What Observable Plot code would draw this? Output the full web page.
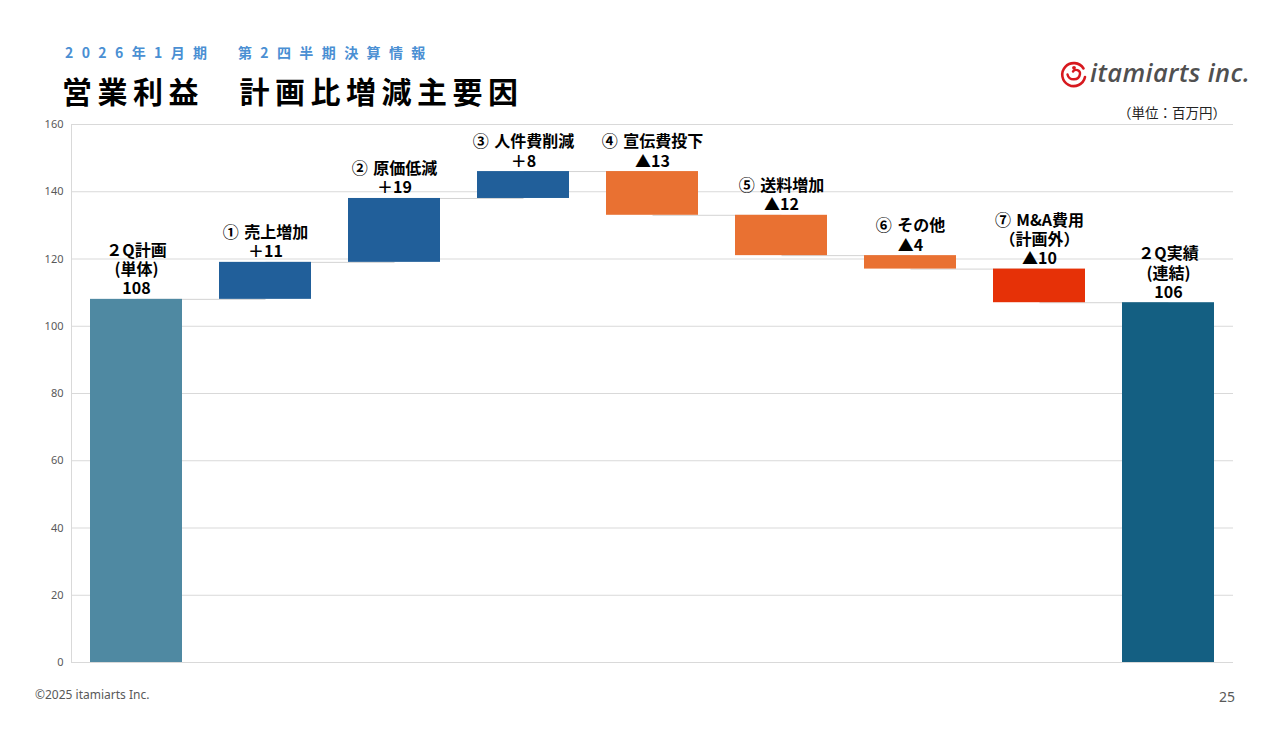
<!DOCTYPE html>
<html><head><meta charset="utf-8">
<script src="https://cdn.jsdelivr.net/npm/d3@7"></script>
<script src="https://cdn.jsdelivr.net/npm/@observablehq/plot@0.6"></script>
<style>
body{margin:0;background:#fff;}
#page{position:relative;width:1280px;height:731px;overflow:hidden;font-family:"Noto Sans CJK JP","Noto Sans",sans-serif;background:#fff;}
.abs{position:absolute;white-space:nowrap;}
#sub{left:65px;top:42px;font-size:14px;font-weight:700;color:#4a8fd3;letter-spacing:8.4px;line-height:20px;}
#title{left:62px;top:72px;font-size:30px;font-weight:700;color:#000;letter-spacing:5.5px;line-height:36px;}
#logo{left:1059px;top:59px;}
#logotext{left:1090px;top:55px;font-family:"Open Sans",sans-serif;font-style:italic;font-weight:600;font-size:25.5px;color:#505050;line-height:34px;letter-spacing:0.4px;}
#unit{left:1118px;top:102px;font-size:13.5px;color:#222;line-height:20px;}
#chart{left:0;top:115px;}
#foot{left:35px;top:686px;font-family:"Noto Sans",sans-serif;font-size:12px;color:#595959;line-height:18px;}
#pnum{left:1219px;top:687px;font-family:"Noto Sans",sans-serif;font-size:14px;color:#595959;line-height:20px;}
</style></head>
<body><div id="page">
<div id="sub" class="abs">2026年1月期　第2四半期決算情報</div>
<div id="title" class="abs">営業利益　計画比増減主要因</div>
<svg id="logo" class="abs" width="30" height="30" viewBox="0 0 30 30">
  <path d="M24.5 9.5 A11.5 11.5 0 1 0 26 18" fill="none" stroke="#d7191f" stroke-width="2.6" stroke-linecap="round"/>
  <path d="M8.5 15.5 C10 22 20 22 21 15 C21.5 11 16 9.5 14 12.5" fill="none" stroke="#d7191f" stroke-width="2.4" stroke-linecap="round"/>
  <circle cx="15" cy="8.8" r="1.9" fill="#d7191f"/>
</svg>
<div id="logotext" class="abs">itamiarts inc.</div>
<div id="unit" class="abs">（単位：百万円）</div>
<div id="chart" class="abs"></div>
<div id="foot" class="abs">©2025 itamiarts Inc.</div>
<div id="pnum" class="abs">25</div>
</div>
<script>
// ---- data ----
const categories = ["2Q計画", "売上増加", "原価低減", "人件費削減", "宣伝費投下", "送料増加", "その他", "M&A費用", "2Q実績"];
const planValue = 108;               // 2Q plan (standalone)
const deltas = [11, 19, 8, -13, -12, -4, -10];
const actualValue = 107;             // 2Q actual bar height as drawn (label shows 106)
const labels = [
  "２Q計画\n(単体)\n108",
  "①\u2004売上増加\n＋11",
  "②\u2004原価低減\n＋19",
  "③\u2004人件費削減\n＋8",
  "④\u2004宣伝費投下\n▲13",
  "⑤\u2004送料増加\n▲12",
  "⑥\u2004その他\n▲4",
  "⑦\u2004M&A費用\n（計画外）\n▲10",
  "２Q実績\n(連結)\n106"
];
const kinds = ["plan", "up", "up", "up", "down", "down", "down", "ma", "actual"];
const kindColors = {plan: "#4f89a2", up: "#215f9a", down: "#e97132", ma: "#e63107", actual: "#145f82"};
const yTicks = [0, 20, 40, 60, 80, 100, 120, 140, 160];

// ---- build waterfall rows ----
const rows = [];
rows.push({cat: categories[0], y1: 0, y2: planValue});
let level = planValue;
deltas.forEach((d, i) => {
  rows.push({cat: categories[i + 1], y1: level, y2: level + d});
  level += d;
});
rows.push({cat: categories[8], y1: 0, y2: actualValue});
rows.forEach((r, i) => { r.label = labels[i]; r.kind = kinds[i]; r.top = Math.max(r.y1, r.y2); });
const connectors = rows.slice(0, -1).map((r, i) => ({from: r.cat, to: rows[i + 1].cat, level: r.y2}));

const chart = Plot.plot({
  width: 1280,
  height: 560,
  marginTop: 9,
  marginBottom: 13,
  marginLeft: 71,
  marginRight: 47,
  style: {fontFamily: "'Noto Sans CJK JP', sans-serif", color: "#595959", background: "transparent"},
  x: {domain: categories, paddingInner: 0.288, paddingOuter: 0.14, axis: null},
  y: {domain: [0, 160], axis: null},
  marks: [
    Plot.gridY(yTicks, {stroke: "#d9d9d9", strokeOpacity: 1}),
    Plot.frame({anchor: "left", stroke: "#d9d9d9"}),
    Plot.axisY(yTicks, {tickSize: 0, tickPadding: 8, fontSize: 11, fontFamily: "'Noto Sans', sans-serif", fill: "#595959"}),
    Plot.link(connectors, {x1: "from", x2: "to", y1: "level", y2: "level", stroke: "#d3d3d3", strokeWidth: 1}),
    Plot.barY(rows, {x: "cat", y1: "y1", y2: "y2", fill: d => kindColors[d.kind], inset: 0}),
    Plot.text(rows, {x: "cat", y: "top", text: "label", lineAnchor: "bottom", dy: -5, fontSize: 16, fontWeight: 700, fill: "#000", lineHeight: 1.2})
  ]
});
document.getElementById("chart").appendChild(chart);
</script>
</body></html>
